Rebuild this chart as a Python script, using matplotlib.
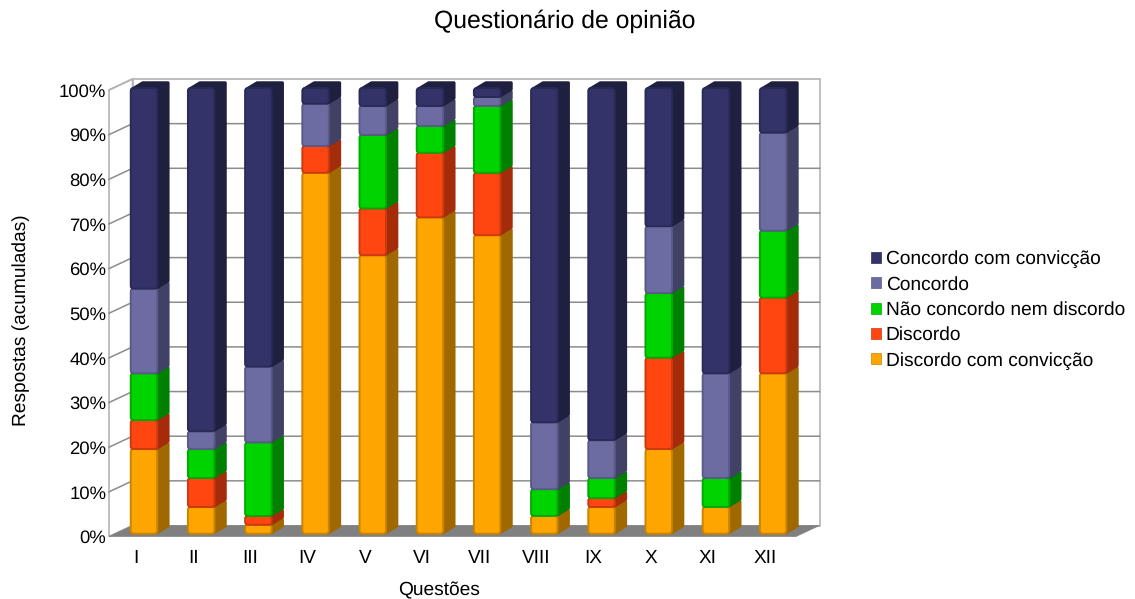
import matplotlib
matplotlib.use("Agg")
import matplotlib.pyplot as plt
import numpy as np
from matplotlib.patches import Polygon, Patch, FancyBboxPatch

plt.rcParams['font.family'] = ['Liberation Sans', 'DejaVu Sans']
plt.rcParams['text.hinting'] = 'no_hinting'

questions = ["I", "II", "III", "IV", "V", "VI", "VII", "VIII", "IX", "X", "XI", "XII"]
discordo_conv = [19, 6, 2, 81, 62.5, 71, 67, 4, 6, 19, 6, 36]
discordo = [6.5, 6.5, 2, 6, 10.5, 14.5, 14, 0, 2, 20.5, 0, 17]
neutro = [10.5, 6.5, 16.5, 0, 16.5, 6, 15, 6, 4.5, 14.5, 6.5, 15]
concordo = [19, 4, 17, 9.5, 6.5, 4.5, 2, 15, 8.5, 15, 23.5, 22]
concordo_conv = [45, 77, 62.5, 3.5, 4, 4, 2, 75, 79, 31, 64, 10]

series = [
    ("Discordo com convicção", discordo_conv, "#ffa500", "#a06800", "#c98400"),
    ("Discordo", discordo, "#ff4510", "#a52c0a", "#cc3a10"),
    ("Não concordo nem discordo", neutro, "#00d400", "#008000", "#00aa00"),
    ("Concordo", concordo, "#6c6ca2", "#414166", "#5a5a88"),
    ("Concordo com convicção", concordo_conv, "#333369", "#1f1f40", "#2a2a58"),
]

W, H = 1135, 599
fig = plt.figure(figsize=(W / 100, H / 100), dpi=100, facecolor="white")

# Front plane of the pseudo-3D box, placed in pixel terms
px_left, px_right, px_top, px_bottom = 109, 796, 90, 536.5
x_low, x_high = -0.472, 11.54
ax = fig.add_axes([px_left / W, 1 - px_bottom / H,
                   (px_right - px_left) / W, (px_bottom - px_top) / H])
ax.set_xlim(x_low, x_high)
ax.set_ylim(0, 100)
for s in ax.spines.values():
    s.set_visible(False)

x_per_px = (x_high - x_low) / (px_right - px_left)
y_per_px = 100 / (px_bottom - px_top)

# Box depth and bar depth, converted to data units
box_dx, box_dy = 23.5 * x_per_px, 11 * y_per_px
bar_dx, bar_dy = 12 * x_per_px, 6.5 * y_per_px
bar_shift_x, bar_shift_y = 8 * x_per_px, 2.8 * y_per_px
bar_w = 26.5 * x_per_px
bar_scale = 0.998
corner = 3.0 * x_per_px
aspect = y_per_px / x_per_px

x0, x1 = ax.get_xlim()
wall_col = "#b4b4b4"
grid_col = "#8c8c8c"

ax.add_patch(Polygon([(x0 + box_dx, box_dy), (x1 + box_dx, box_dy),
                      (x1 + box_dx, 100 + box_dy), (x0 + box_dx, 100 + box_dy)],
                     closed=True, fc="white", ec=wall_col, lw=1.2, zorder=1, clip_on=False))
ax.add_patch(Polygon([(x0, 0), (x0 + box_dx, box_dy), (x0 + box_dx, 100 + box_dy), (x0, 100)],
                     closed=True, fc="white", ec=wall_col, lw=1.2, zorder=1, clip_on=False))
ax.add_patch(Polygon([(x0, 0), (x1, 0), (x1 + box_dx, box_dy), (x0 + box_dx, box_dy)],
                     closed=True, fc="#808080", ec="#808080", lw=0.5, zorder=2, clip_on=False))

ticks = np.arange(0, 101, 10)
for t in ticks[1:-1]:
    ax.plot([x0, x0 + box_dx, x1 + box_dx], [t, t + box_dy, t + box_dy],
            color=grid_col, lw=1.1, zorder=1.5, clip_on=False)
ax.plot([x0, x0 + box_dx], [100, 100 + box_dy], color=wall_col, lw=1.2, zorder=1.5, clip_on=False)

# Stacked segments, lowest first so each one overlaps the top face below it
inset_x = 1.2 * x_per_px
inset_y = 1.2 * y_per_px
xpos = np.arange(len(questions))
base = np.zeros(len(questions))
order = 3.0
for label, values, front, side, edge in series:
    vals = np.array(values, dtype=float)
    for xc, b, v in zip(xpos, base, vals):
        if v <= 0:
            continue
        left = xc + bar_shift_x - bar_w / 2
        right = left + bar_w
        lo = b * bar_scale + bar_shift_y
        hi = lo + v * bar_scale
        # side and top faces share one rounded outline behind the front face
        ax.add_patch(Polygon([(left + inset_x, lo + inset_y),
                              (right, lo + inset_y),
                              (right + bar_dx - inset_x, lo + bar_dy + inset_y),
                              (right + bar_dx - inset_x, hi + bar_dy - inset_y),
                              (left + bar_dx, hi + bar_dy - inset_y),
                              (left + inset_x, hi - inset_y)],
                             closed=True, fc=side, ec=side, lw=2.2, joinstyle="round",
                             zorder=order, clip_on=False))
        ax.add_patch(FancyBboxPatch((left, lo), bar_w, v * bar_scale,
                                    boxstyle=f"round,pad=0,rounding_size={corner}",
                                    mutation_aspect=aspect, fc=front, ec=edge, lw=1.4,
                                    zorder=order + 0.1, clip_on=False))
    base += vals
    order += 1

ax.set_xticks(xpos)
ax.set_xticklabels(questions, fontsize=13.7)
ax.set_yticks(ticks)
ax.set_yticklabels([f"{t}%" for t in ticks], fontsize=13.3)
ax.tick_params(axis="both", length=0, pad=2, colors="black")
ax.tick_params(axis="x", pad=9)

fig.text(564.5 / W, 1 - 21 / H, "Questionário de opinião", fontsize=17.8, ha="center", va="center")
fig.text(439 / W, 1 - 590 / H, "Questões", fontsize=13.8, ha="center", va="center")
fig.text(21 / W, 1 - 320 / H, "Respostas (acumuladas)", fontsize=13.8, rotation=90,
         ha="center", va="center")

handles = [Patch(facecolor=front, edgecolor=edge, linewidth=0.5, label=label)
           for label, _, front, _, edge in reversed(series)]
fig.legend(handles=handles, loc="center left", bbox_to_anchor=(871 / W, 1 - 310 / H),
           frameon=False, fontsize=13.75, handlelength=0.52, handleheight=0.52,
           handletextpad=0.26, labelspacing=0.40, borderpad=0, borderaxespad=0)

fig.savefig("out.png", dpi=100)
